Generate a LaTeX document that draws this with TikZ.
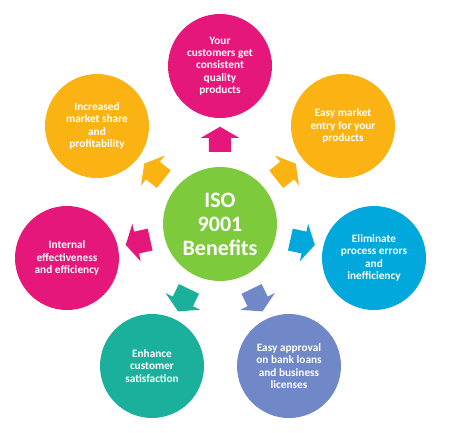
\documentclass[tikz,border=0pt]{standalone}
\usepackage{fontspec}
\setmainfont{Carlito}
\usetikzlibrary{shapes.arrows}
\definecolor{isogreen}{HTML}{7DCB3C}
\definecolor{isopink}{HTML}{E6177A}
\definecolor{isoorange}{HTML}{FBB313}
\definecolor{isoblue}{HTML}{00A8DB}
\definecolor{isoteal}{HTML}{1BB09B}
\definecolor{isoviolet}{HTML}{7088C8}

\begin{document}
\begin{tikzpicture}[x=1pt, y=-1pt,
          benefit/.style = {circle, minimum size=104pt, inner sep=0pt, align=center,
          text=white, font=\bfseries\fontsize{11.3}{12.3}\selectfont},
          hub/.style = {benefit, minimum size=114pt, font=\bfseries\fontsize{22}{24}\selectfont},
          pointer/.style = {single arrow, sloped, allow upside down, inner sep=0pt,
          text height=11pt, text depth=11pt, minimum height=25pt,
          single arrow head extend=8pt, single arrow tip angle=120}
          ]
          \useasboundingbox (0,0) rectangle (450,432);
          \node[hub, fill=isogreen] (iso) at (220,224) {ISO\\9001\\Benefits};
          \node[benefit, fill=isopink] (quality) at (220,66) {Your\\customers get\\consistent\\quality\\products};
          \node[benefit, fill=isoorange] (share) at (97,126) {Increased\\market share\\and\\profitability};
          \node[benefit, fill=isoorange] (entry) at (343,126) {Easy market\\entry for your\\products};
          \node[benefit, fill=isopink] (internal) at (67,258) {Internal\\effectiveness\\and efficiency};
          \node[benefit, fill=isoblue] (errors) at (374,258) {Eliminate\\process errors\\and\\inefficiency};
          \node[benefit, fill=isoteal] (satisfaction) at (152,366) {Enhance\\customer\\satisfaction};
          \node[benefit, fill=isoviolet] (approval) at (289,366) {Easy approval\\on bank loans\\and business\\licenses};
          \path (iso) -- node[pointer, fill=isopink] {} (quality);
          \path (iso) -- node[pointer, fill=isoorange] {} (share);
          \path (iso) -- node[pointer, fill=isoorange] {} (entry);
          \path (iso) -- node[pointer, fill=isopink] {} (internal);
          \path (iso) -- node[pointer, fill=isoblue] {} (errors);
          \path (iso) -- node[pointer, fill=isoteal] {} (satisfaction);
          \path (iso) -- node[pointer, fill=isoviolet] {} (approval);
\end{tikzpicture}
\end{document}
